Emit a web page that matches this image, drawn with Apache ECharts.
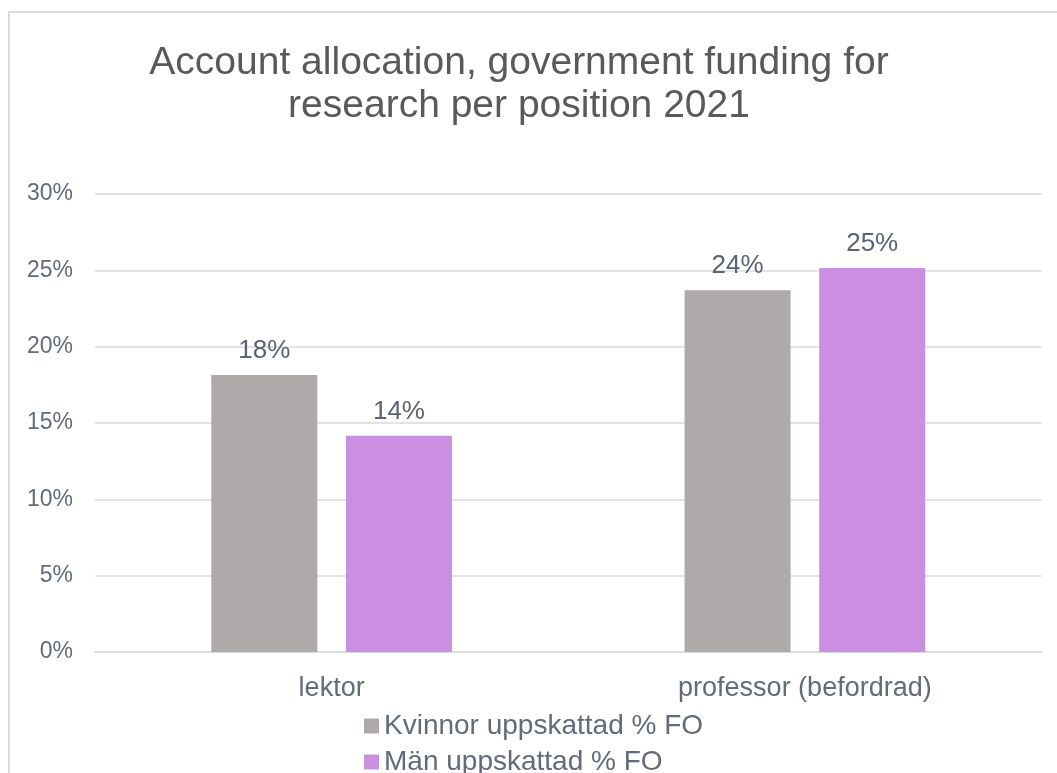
<!DOCTYPE html>
<html>
<head>
<meta charset="utf-8">
<script src="https://cdn.jsdelivr.net/npm/echarts@6/dist/echarts.min.js"></script>
<style>
html,body{margin:0;padding:0;background:#fff;}
#chart{width:1057px;height:773px;}
</style>
</head>
<body>
<div id="chart"></div>
<script>
const titleText = "Account allocation, government funding for\nresearch per position 2021";
const categories = ["lektor", "professor (befordrad)"];
const seriesNames = ["Kvinnor uppskattad % FO", "Män uppskattad % FO"];
const kvinnorValues = [0.1815, 0.237];
const manValues = [0.1417, 0.2515];
const yTicks = [0, 0.05, 0.10, 0.15, 0.20, 0.25, 0.30];

const font = "'Liberation Sans', Arial, sans-serif";
const chart = echarts.init(document.getElementById('chart'), null, {renderer: 'canvas'});
const pct = v => Math.round(v * 100) + '%';

chart.setOption({
  animation: false,
  backgroundColor: '#ffffff',
  graphic: [{
    type: 'rect',
    shape: {x: 9, y: 12, width: 1100, height: 800},
    style: {fill: 'none', stroke: '#d9d9d9', lineWidth: 2},
    silent: true
  }],
  title: {
    text: titleText,
    left: 519,
    top: 42,
    textAlign: 'center',
    padding: 0,
    textStyle: {fontFamily: font, fontSize: 39, fontWeight: 'normal', color: '#595959', lineHeight: 43}
  },
  legend: {
    orient: 'vertical',
    left: 364,
    top: 712,
    height: 120,
    itemWidth: 15,
    itemHeight: 15,
    itemGap: 8,
    icon: 'rect',
    padding: 0,
    textStyle: {fontFamily: font, fontSize: 28, color: '#636a78', lineHeight: 28},
    data: seriesNames
  },
  grid: {left: 95, right: 15.5, top: 194, bottom: 121, containLabel: false},
  xAxis: {
    type: 'category',
    data: categories,
    axisLine: {lineStyle: {color: '#dadade', width: 1.5}},
    axisTick: {show: false},
    axisLabel: {fontFamily: font, fontSize: 27, color: '#636a78', margin: 23}
  },
  yAxis: {
    type: 'value',
    min: yTicks[0],
    max: yTicks[yTicks.length - 1],
    interval: 0.05,
    axisLine: {show: false},
    axisTick: {show: false},
    splitLine: {lineStyle: {color: '#dadade', width: 1.5}},
    axisLabel: {fontFamily: font, fontSize: 23, color: '#636a78', margin: 22, formatter: v => pct(v)}
  },
  series: [
    {
      name: seriesNames[0], type: 'bar', data: kvinnorValues,
      barWidth: '22.4%', barGap: '27%',
      itemStyle: {color: '#aeaaa9'},
      label: {show: true, position: 'top', distance: 11, fontFamily: font, fontSize: 26, color: '#5b6270', formatter: p => pct(p.value)}
    },
    {
      name: seriesNames[1], type: 'bar', data: manValues,
      barWidth: '22.4%', barGap: '27%',
      itemStyle: {color: '#ca8fe0'},
      label: {show: true, position: 'top', distance: 11, fontFamily: font, fontSize: 26, color: '#5b6270', formatter: p => pct(p.value)}
    }
  ]
});
</script>
</body>
</html>
